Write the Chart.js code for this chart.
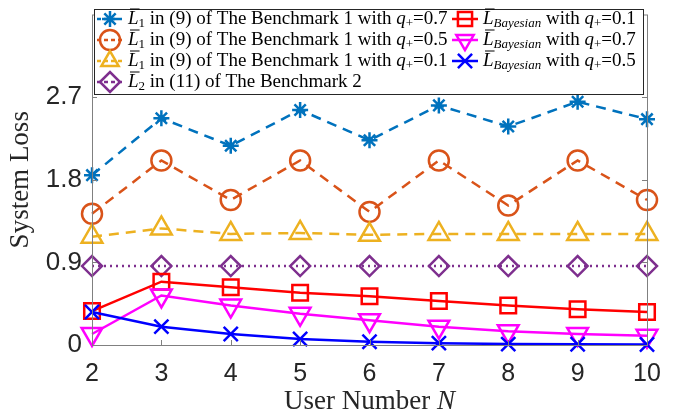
<!DOCTYPE html>
<html>
<head>
<meta charset="utf-8">
<script src="https://cdn.jsdelivr.net/npm/chart.js@4/dist/chart.umd.min.js"></script>
<style>
  body { margin: 0; background: #fff; }
  canvas { display: block; }
</style>
</head>
<body>
<canvas id="lossChart" width="673" height="418"></canvas>
<script>
// values
const userN = [2, 3, 4, 5, 6, 7, 8, 9, 10];
const bench1Q07 = [1.85, 2.47, 2.17, 2.56, 2.23, 2.61, 2.38, 2.65, 2.46];
const bench1Q05 = [1.43, 2.01, 1.58, 2.01, 1.45, 2.01, 1.52, 2.01, 1.58];
const bench1Q01 = [1.18, 1.27, 1.21, 1.22, 1.20, 1.21, 1.21, 1.21, 1.21];
const bench2 = [0.86, 0.86, 0.86, 0.86, 0.86, 0.86, 0.86, 0.86, 0.86];
const bayesQ01 = [0.37, 0.69, 0.63, 0.57, 0.53, 0.48, 0.43, 0.39, 0.36];
const bayesQ07 = [0.12, 0.54, 0.43, 0.34, 0.27, 0.20, 0.15, 0.12, 0.10];
const bayesQ05 = [0.36, 0.20, 0.12, 0.065, 0.035, 0.02, 0.01, 0.008, 0.005];
const yTicks = [0, 0.9, 1.8, 2.7];

const toPoints = (arr) => arr.map((v, i) => ({ x: userN[i], y: v }));

// legend text pieces: L-bar, subscript, rest, q_+ value
const bench1Label = (q) => [
    { t: 'L', it: true, bar: true }, { t: '1', sub: true },
    { t: ' in (9) of The Benchmark 1 with ' }, { t: 'q', it: true }, { t: '+', sub: true }, { t: '=' + q }
];
const bayesLabel = (q) => [
    { t: 'L', it: true, bar: true }, { t: 'Bayesian', sub: true, it: true },
    { t: ' with ' }, { t: 'q', it: true }, { t: '+', sub: true }, { t: '=' + q }
];
const bench2Label = [
    { t: 'L', it: true, bar: true }, { t: '2', sub: true }, { t: ' in (11) of The Benchmark 2' }
];
const xTitle = [{ t: 'User Number ', size: 27 }, { t: 'N', it: true, size: 27 }];

const series = [
    { data: bench1Q07, color: '#0072BD', style: 'star', r: 8, dash: [10, 7], rot: 0, label: bench1Label('0.7'), col: 0, row: 0 },
    { data: bench1Q05, color: '#D95319', style: 'circle', r: 10, dash: [10, 7], rot: 0, label: bench1Label('0.5'), col: 0, row: 1 },
    { data: bench1Q01, color: '#EDB120', style: 'triangle', r: 12, dash: [10, 7], rot: 0, label: bench1Label('0.1'), col: 0, row: 2 },
    { data: bench2, color: '#7E2F8E', style: 'rectRot', r: 10, dash: [2, 4], rot: 0, label: bench2Label, col: 0, row: 3 },
    { data: bayesQ01, color: '#FF0000', style: 'rect', r: 11, dash: [], rot: 0, label: bayesLabel('0.1'), col: 1, row: 0 },
    { data: bayesQ07, color: '#FF00FF', style: 'triangle', r: 12, dash: [], rot: 180, label: bayesLabel('0.7'), col: 1, row: 1 },
    { data: bayesQ05, color: '#0000FF', style: 'crossRot', r: 10, dash: [], rot: 0, label: bayesLabel('0.5'), col: 1, row: 2 }
];

function richWidth(ctx, segs) {
    let w = 0;
    segs.forEach(s => {
        const size = s.size || (s.sub ? 13 : 19);
        ctx.font = (s.it ? 'italic ' : '') + size + 'px "Liberation Serif"';
        w += ctx.measureText(s.t).width;
    });
    return w;
}

function drawRich(ctx, x, y, segs, color) {
    ctx.textBaseline = 'middle';
    ctx.textAlign = 'left';
    ctx.fillStyle = color || '#000';
    segs.forEach(s => {
        const size = s.size || (s.sub ? 13 : 19);
        ctx.font = (s.it ? 'italic ' : '') + size + 'px "Liberation Serif"';
        const dy = s.sub ? 5 : 0;
        ctx.fillText(s.t, x, y + dy);
        const w = ctx.measureText(s.t).width;
        if (s.bar) {
            ctx.strokeStyle = '#000';
            ctx.lineWidth = 1;
            ctx.setLineDash([]);
            ctx.beginPath();
            ctx.moveTo(x + 2, y - 10);
            ctx.lineTo(x + w + 1, y - 10);
            ctx.stroke();
        }
        x += w;
    });
}

const framePlugin = {
    id: 'frame',
    afterDatasetsDraw(chart) {
        const { ctx, chartArea: a, scales } = chart;
        ctx.save();
        ctx.strokeStyle = '#808080';
        ctx.lineWidth = 1;
        ctx.setLineDash([]);
        ctx.strokeRect(a.left + 0.5, a.top + 0.5, a.right - a.left, a.bottom - a.top);
        ctx.beginPath();
        userN.forEach(n => {
            const px = Math.round(scales.x.getPixelForValue(n)) + 0.5;
            ctx.moveTo(px, a.bottom); ctx.lineTo(px, a.bottom - 5);
        });
        yTicks.forEach(v => {
            const py = Math.round(scales.y.getPixelForValue(v)) + 0.5;
            ctx.moveTo(a.left, py); ctx.lineTo(a.left + 5, py);
            ctx.moveTo(a.right, py); ctx.lineTo(a.right - 5, py);
        });
        ctx.stroke();

        // x axis title with italic N
        const tw = richWidth(ctx, xTitle);
        drawRich(ctx, (a.left + a.right) / 2 - tw / 2, 402, xTitle, '#262626');

        // legend box
        const bx = 94, by = 9, bw = 549, bh = 85;
        ctx.fillStyle = '#fff';
        ctx.fillRect(bx, by, bw, bh);
        ctx.strokeStyle = '#262626';
        ctx.lineWidth = 1;
        ctx.strokeRect(bx + 0.5, by + 0.5, bw, bh);

        const colX = [97, 452];
        const rowY = [19, 40, 61, 82];
        series.forEach(s => {
            const x0 = colX[s.col], y0 = rowY[s.row];
            ctx.strokeStyle = s.color;
            ctx.fillStyle = 'rgba(0,0,0,0)';
            ctx.lineWidth = 2.5;
            ctx.setLineDash(s.dash.length ? [4, 3] : []);
            ctx.beginPath();
            ctx.moveTo(x0, y0); ctx.lineTo(x0 + 26, y0);
            ctx.stroke();
            ctx.setLineDash([]);
            Chart.helpers.drawPoint(ctx, {
                pointStyle: s.style, rotation: s.rot, radius: Math.min(s.r, 10), borderWidth: 2.5
            }, x0 + 13, y0);
            drawRich(ctx, x0 + 31, y0, s.label);
        });
        ctx.restore();
    }
};

const ctx = document.getElementById('lossChart').getContext('2d');
new Chart(ctx, {
    type: 'line',
    data: {
        datasets: series.map((s, i) => ({
            data: toPoints(s.data),
            borderColor: s.color,
            backgroundColor: 'transparent',
            borderWidth: 2.5,
            borderDash: s.dash,
            pointStyle: s.style,
            pointRotation: s.rot,
            pointRadius: s.r,
            pointBorderWidth: 2.5,
            pointBorderColor: s.color,
            pointBackgroundColor: 'transparent',
            tension: 0,
            clip: false,
            order: series.length - i
        }))
    },
    options: {
        responsive: false,
        animation: false,
        layout: { padding: { top: 9, right: 26, left: 0, bottom: 0 } },
        plugins: {
            legend: { display: false },
            tooltip: { enabled: false }
        },
        scales: {
            x: {
                type: 'linear',
                min: 2,
                max: 10,
                grid: { display: false },
                border: { display: false },
                afterBuildTicks: (scale) => { scale.ticks = userN.map(v => ({ value: v })); },
                afterFit: (scale) => {
                    scale.height = 73;
                    scale.paddingLeft = 0;
                    scale.paddingRight = 0;
                },
                ticks: {
                    color: '#262626',
                    padding: 6,
                    font: { family: '"Liberation Sans", Arial', size: 25 }
                }
            },
            y: {
                min: 0,
                max: 3.6,
                grid: { display: false },
                border: { display: false },
                afterBuildTicks: (scale) => { scale.ticks = yTicks.map(v => ({ value: v })); },
                afterFit: (scale) => {
                    scale.width = 92;
                    scale.paddingTop = 0;
                    scale.paddingBottom = 0;
                },
                ticks: {
                    color: '#262626',
                    padding: 2,
                    font: { family: '"Liberation Sans", Arial', size: 26 },
                    callback: (v) => v === 0 ? '0' : v.toFixed(1)
                },
                title: {
                    display: true,
                    text: 'System Loss',
                    color: '#262626',
                    padding: { top: 5, bottom: 0 },
                    font: { family: '"Liberation Serif"', size: 27 }
                }
            }
        }
    },
    plugins: [framePlugin]
});
</script>
</body>
</html>
